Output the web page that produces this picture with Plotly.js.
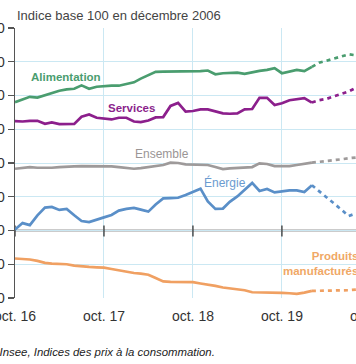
<!DOCTYPE html>
<html><head><meta charset="utf-8">
<script src="https://cdn.plot.ly/plotly-3.0.1.min.js"></script>
<style>html,body{margin:0;padding:0;width:356px;height:364px;overflow:hidden;background:#fff}
#chart{position:absolute;left:-45px;top:0;width:451px;height:364px}</style>
</head><body><div id="chart"></div>
<script>
const mois = ["2016-10","2016-11","2016-12",
"2017-01","2017-02","2017-03","2017-04","2017-05","2017-06","2017-07","2017-08","2017-09","2017-10","2017-11","2017-12",
"2018-01","2018-02","2018-03","2018-04","2018-05","2018-06","2018-07","2018-08","2018-09","2018-10","2018-11","2018-12",
"2019-01","2019-02","2019-03","2019-04","2019-05","2019-06","2019-07","2019-08","2019-09","2019-10","2019-11","2019-12",
"2020-01","2020-02"];
const moisPrev = ["2020-02","2020-03","2020-04","2020-05","2020-06","2020-07","2020-08","2020-09","2020-10"];

const alimentation = [138.0,138.9,139.6,139.4,140.1,140.8,141.4,141.8,142.0,143.0,142.0,142.6,142.8,142.9,142.9,143.3,143.9,145.0,146.0,147.0,147.1,147.1,147.1,147.1,147.1,147.2,147.4,146.3,146.6,146.7,146.8,146.4,146.9,147.3,147.6,148.1,146.6,147.0,147.6,147.2,148.5];
const alimentationPrev = [148.5,149.7,150.3,151.0,151.6,152.2,151.9,151.6,151.5];

const services = [132.4,132.3,132.5,132.5,131.6,132.0,131.5,131.5,131.6,133.7,134.4,133.4,133.1,132.9,133.4,133.4,132.3,132.1,132.6,133.5,133.6,136.9,137.8,135.2,135.4,135.9,135.9,135.2,134.7,134.6,134.7,135.9,136.0,139.3,139.3,137.2,137.7,138.6,139.0,139.2,137.9];
const servicesPrev = [137.9,138.6,139.0,139.8,140.4,141.2,142.3,143.0,143.6];

const ensemble = [118.3,118.5,118.8,118.6,118.5,118.6,118.8,118.8,119.0,119.1,119.1,119.1,119.1,119.0,118.8,118.5,118.3,118.5,118.8,119.1,119.4,120.1,120.0,119.6,119.6,119.6,119.4,118.8,118.2,118.4,118.5,118.7,118.8,119.9,119.7,119.1,119.0,119.1,119.4,119.7,120.1];
const ensemblePrev = [120.1,120.3,120.6,120.8,121.1,121.4,121.7,121.9,122.1];

const energie = [100.3,102.2,101.6,104.5,106.8,107.0,106.1,106.4,104.5,102.8,102.5,103.1,103.9,104.6,105.9,106.4,106.7,106.2,105.6,107.7,109.5,109.6,109.7,110.5,111.4,112.4,108.6,106.4,106.5,108.5,110.1,112.2,114.1,111.7,112.3,111.3,111.7,111.9,111.9,111.4,113.4];
const energiePrev = [113.4,111.7,109.9,108.2,106.2,104.3,105.2,105.9,106.5];

const manufactures = [91.7,91.6,91.4,91.0,90.4,90.2,90.2,90.0,89.6,89.3,89.2,89.1,89.0,88.6,88.2,87.7,87.4,87.2,86.9,85.9,84.9,84.8,84.8,84.8,84.7,84.3,84.0,83.6,83.1,82.9,82.7,82.3,81.7,81.7,81.7,81.7,81.5,81.4,81.2,81.6,82.1];
const manufacturesPrev = [82.1,82.1,82.1,82.2,82.3,82.3,82.5,82.6,82.8];

const tickDates = ["2016-10-01","2017-10-01","2018-10-01","2019-10-01","2020-10-01"];
const tickLabels = ["oct. 16","oct. 17","oct. 18","oct. 19","oct. 20"];
const yTicks = [80,90,100,110,120,130,140,150,160];

const series = [
  {obs: alimentation, prev: alimentationPrev, color: "#4a9d6f"},
  {obs: services, prev: servicesPrev, color: "#8c1f8c"},
  {obs: ensemble, prev: ensemblePrev, color: "#9e9a9a"},
  {obs: energie, prev: energiePrev, color: "#5a8fc8"},
  {obs: manufactures, prev: manufacturesPrev, color: "#f0a062"}
];
const traces = [];
series.forEach(s => {
  traces.push({x: mois, y: s.obs, type: "scatter", mode: "lines", line: {color: s.color, width: 2.7}, hoverinfo: "skip"});
  traces.push({x: moisPrev, y: s.prev, type: "scatter", mode: "lines", line: {color: s.color, width: 2.7, dash: "4px,4px"}, hoverinfo: "skip"});
});

const shapes = [{type: "line", xref: "paper", x0: 0, x1: 1, yref: "y", y0: 100, y1: 100, line: {color: "#333", width: 1.5}, layer: "between"}];
tickDates.forEach(d => {
  shapes.push({type: "line", xref: "x", x0: d, x1: d, yref: "y", ysizemode: "pixel", yanchor: 100, y0: 5, y1: -6, line: {color: "#333", width: 1.3}, layer: "between"});
});

const lab = (text, x, y, color, bold, extra) => Object.assign({
  text: bold ? "<b>" + text + "</b>" : text, xref: "paper", yref: "paper", x: x, y: y,
  xanchor: "center", yanchor: "middle", showarrow: false,
  font: {family: "Liberation Sans, Arial, sans-serif", size: bold ? 11.5 : 12, color: color}
}, extra || {});

const layout = {
  width: 451, height: 364,
  margin: {l: 60, r: 20, t: 28, b: 66},
  paper_bgcolor: "#fff", plot_bgcolor: "#fff",
  showlegend: false, hovermode: false,
  font: {family: "Liberation Sans, Arial, sans-serif", color: "#333"},
  xaxis: {type: "date", range: ["2016-10-01", "2020-12-01"], tickvals: tickDates, ticktext: tickLabels,
          showgrid: true, gridcolor: "#cbe8f3", gridwidth: 1, zeroline: false, showline: false, ticks: "",
          tickfont: {size: 14, color: "#333"}, ticklabelstandoff: 8},
  yaxis: {range: [80, 160], tickvals: yTicks, showgrid: true, gridcolor: "#cbe8f3", gridwidth: 1, zeroline: false,
          showline: true, linecolor: "#555", linewidth: 1.5, ticks: "outside", ticklen: 6, tickcolor: "#555", tickwidth: 1.3,
          tickfont: {size: 14, color: "#333"}},
  shapes: shapes,
  annotations: [
    {text: "Indice base 100 en décembre 2006", xref: "paper", yref: "paper", x: 0, y: 1, xanchor: "left", yanchor: "bottom", yshift: 3,
     showarrow: false, font: {size: 13, color: "#444"}},
    lab("Alimentation", 0.1375, 0.8185, "#4a9d6f", true),
    lab("Services", 0.315, 0.705, "#8c1f8c", true),
    lab("Ensemble", 0.395, 0.532, "#9a9595", false),
    lab("Énergie", 0.567, 0.427, "#6b9bd0", false),
    lab("Produits<br>manufacturés", 0.93, 0.128, "#f0a866", true, {xanchor: "right", align: "right"}),
    {text: "<i>Source : Insee, Indices des prix à la consommation.</i>", xref: "paper", yref: "paper", x: 0.545, y: -0.199,
     xanchor: "right", yanchor: "middle", showarrow: false,
     font: {family: "Liberation Sans Narrow, Arial Narrow, Liberation Sans, sans-serif", size: 11.4, color: "#222"}}
  ]
};
Plotly.newPlot("chart", traces, layout, {staticPlot: true, displayModeBar: false});
</script></body></html>
